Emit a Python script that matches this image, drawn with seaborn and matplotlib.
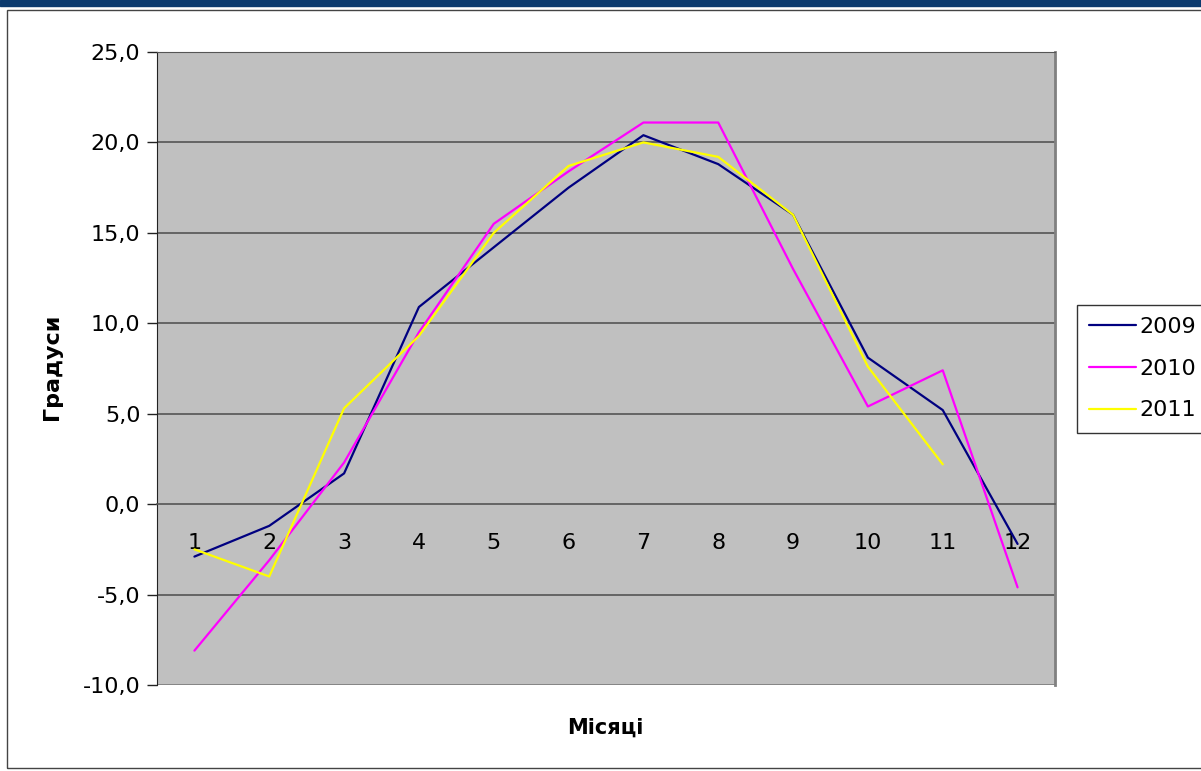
import numpy as np
import pandas as pd
import matplotlib
matplotlib.use("Agg")
import matplotlib.pyplot as plt
import matplotlib.patches as mpatches
from matplotlib.ticker import FixedLocator, FuncFormatter
import seaborn as sns

months = list(range(1, 13))
t2009 = [-2.9, -1.2, 1.7, 10.9, 14.2, 17.5, 20.4, 18.8, 16.0, 8.1, 5.2, -2.2]
t2010 = [-8.1, -3.1, 2.3, 9.5, 15.5, 18.4, 21.1, 21.1, 13.0, 5.4, 7.4, -4.6]
t2011 = [-2.5, -4.0, 5.3, 9.3, 15.0, 18.7, 20.0, 19.2, 16.0, 7.6, 2.2, np.nan]
years = ["2009", "2010", "2011"]
colors = ["#000080", "#FF00FF", "#FFFF00"]


def build_frame():
    frames = []
    for year, vals in zip(years, [t2009, t2010, t2011]):
        frames.append(pd.DataFrame({"month": months, "temp": vals, "year": year}))
    return pd.concat(frames, ignore_index=True).dropna()


def main():
    df = build_frame()
    sns.set_style("white")
    plt.rcParams["font.family"] = ["DejaVu Sans"]
    plt.rcParams["text.color"] = "black"
    plt.rcParams["xtick.color"] = "black"
    plt.rcParams["ytick.color"] = "black"

    fig = plt.figure(figsize=(12.01, 7.71), dpi=100)
    ax = fig.add_axes([157 / 1201, 1 - 685 / 771, 898 / 1201, 633 / 771])
    ax.set_facecolor("#C0C0C0")

    # top header band and outer chart frame
    fig.patches.append(mpatches.Rectangle((0, 1 - 6 / 771), 1, 6 / 771,
                                          transform=fig.transFigure, color="#0B3A6E", zorder=0))
    fig.patches.append(mpatches.Rectangle((7 / 1201, 3 / 771), 1.0, 1 - 13 / 771,
                                          transform=fig.transFigure, fill=False,
                                          edgecolor="#444444", linewidth=1.0, zorder=0))

    for y in [-5, 5, 10, 15, 20, 25]:
        ax.axhline(y, color="#555555", linewidth=1.2, zorder=1)
    ax.axhline(-10, color="#808080", linewidth=2, zorder=1)

    sns.lineplot(data=df, x="month", y="temp", hue="year", palette=colors,
                 linewidth=1.6, ax=ax, zorder=3, legend=True)

    ax.set_xlim(0.5, 12.5)
    ax.set_ylim(-10, 25)

    # x axis sits at zero, ticks between categories
    ax.spines["bottom"].set_position(("data", 0))
    ax.spines["bottom"].set_color("#555555")
    ax.spines["bottom"].set_linewidth(1.2)
    ax.spines["left"].set_color("#222222")
    ax.spines["right"].set_color("#808080")
    ax.spines["right"].set_linewidth(2)
    ax.spines["top"].set_color("#555555")
    ax.xaxis.set_major_locator(FixedLocator(months))
    ax.xaxis.set_minor_locator(FixedLocator(np.arange(1.5, 12.6, 1.0)))
    ax.tick_params(axis="x", which="major", length=0, pad=21, labelsize=16)
    ax.tick_params(axis="x", which="minor", length=7, width=1, color="#333333", direction="out")
    ax.set_xticklabels([str(m) for m in months])

    ax.set_yticks(np.arange(-10, 26, 5))
    ax.yaxis.set_major_formatter(FuncFormatter(lambda v, p: f"{v:.1f}".replace(".", ",")))
    ax.tick_params(axis="y", length=7, width=1, color="#222222", direction="out",
                   left=True, pad=5, labelsize=16)

    ax.set_xlabel("")
    ax.set_ylabel("")
    fig.text(605 / 1201, 1 - 728 / 771, "Місяці", ha="center", va="center",
             fontsize=15, fontweight="bold")
    fig.text(52 / 1201, 1 - 367 / 771, "Градуси", ha="center", va="center",
             rotation=90, fontsize=16, fontweight="bold")

    leg = ax.legend(loc="upper left", bbox_to_anchor=(1077 / 1201, 1 - 305 / 771),
                    bbox_transform=fig.transFigure, frameon=True, fancybox=False,
                    fontsize=16, handlelength=2.1, handletextpad=0.15,
                    borderpad=0.55, labelspacing=0.97, borderaxespad=0)
    leg.get_frame().set_edgecolor("black")
    leg.get_frame().set_linewidth(1.0)
    for line in leg.get_lines():
        line.set_linewidth(1.6)

    fig.savefig("out.png", dpi=100)


if __name__ == "__main__":
    main()
